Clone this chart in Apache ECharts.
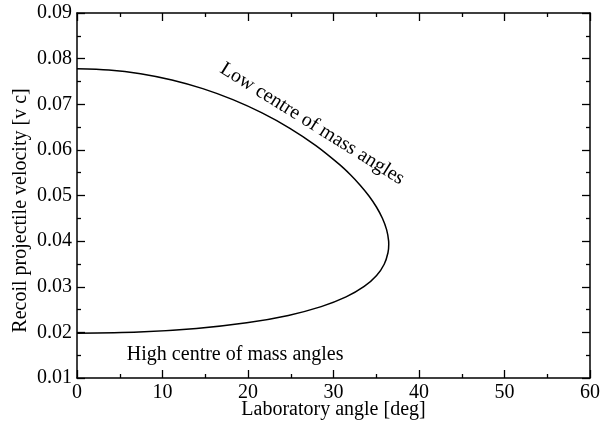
<!DOCTYPE html>
<html><head><meta charset="utf-8">
<script src="https://cdn.jsdelivr.net/npm/echarts@6/dist/echarts.min.js"></script>
<style>html,body{margin:0;padding:0;background:#fff}#c{width:610px;height:423px}</style>
</head><body><div id="c"></div>
<script>
// Laboratory angle (deg) and recoil projectile velocity (v/c)
const angles = [0, 3.72, 7.43, 11.10, 14.71, 18.23, 21.64, 24.90, 27.94, 30.72, 31.98, 33.12, 34.15, 35.02, 35.72, 36.21, 36.45, 36.46, 36.37, 35.93, 35.04, 33.59, 31.47, 28.56, 24.72, 19.85, 13.97, 7.24, 0];
const velocities = [0.0778, 0.07752, 0.07670, 0.07532, 0.07342, 0.07101, 0.06810, 0.06473, 0.06094, 0.05677, 0.05455, 0.05226, 0.04990, 0.04748, 0.04501, 0.04251, 0.03999, 0.03925, 0.03746, 0.03494, 0.03247, 0.03006, 0.02777, 0.02564, 0.02372, 0.02210, 0.02086, 0.02007, 0.0198];
const annotationTexts = ['Low centre of mass angles', 'High centre of mass angles'];
const annotationX = [27.5, 18.5];
const annotationY = [0.0657, 0.0150];
const annotationAngle = [-32, 0];
const xTitle = 'Laboratory angle [deg]';
const yTitle = 'Recoil projectile velocity [v c]';

const FONT = 'Liberation Serif';
const FS = 20;
const chart = echarts.init(document.getElementById('c'));
const axisLine = {show: true, onZero: false, lineStyle: {color: '#000', width: 1.5}};
const tick = {show: true, inside: true, length: 8, lineStyle: {color: '#000', width: 1.3}};
const minor = {show: true, splitNumber: 2, length: 4, lineStyle: {color: '#000', width: 1.3}};
const base = {splitLine: {show: false}, axisLine, axisTick: tick, minorTick: minor};
chart.setOption({
  animation: false,
  backgroundColor: '#fff',
  grid: {left: 77, right: 20, top: 13, bottom: 45, containLabel: false, outerBoundsMode: 'none'},
  xAxis: [
    Object.assign({type: 'value', min: 0, max: 60, interval: 10, position: 'bottom',
      name: xTitle, nameLocation: 'middle', nameGap: 22, nameMoveOverlap: false,
      nameTextStyle: {fontFamily: FONT, fontSize: FS, color: '#000'},
      axisLabel: {fontFamily: FONT, fontSize: FS, color: '#000', margin: 5}}, base),
    Object.assign({type: 'value', min: 0, max: 60, interval: 10, position: 'top',
      axisLabel: {show: false}}, base)
  ],
  yAxis: [
    Object.assign({type: 'value', min: 0.01, max: 0.09, interval: 0.01, position: 'left',
      name: yTitle, nameLocation: 'middle', nameGap: 46, nameMoveOverlap: false,
      nameTextStyle: {fontFamily: FONT, fontSize: FS, color: '#000', padding: [0, 30, 0, 0]},
      axisLabel: {fontFamily: FONT, fontSize: FS, color: '#000', margin: 5,
        formatter: v => v.toFixed(2)}}, base),
    Object.assign({type: 'value', min: 0.01, max: 0.09, interval: 0.01, position: 'right',
      axisLabel: {show: false}}, base)
  ],
  series: [{
    type: 'line',
    data: angles.map((a, i) => [a, velocities[i]]),
    showSymbol: false,
    smooth: 0.3,
    lineStyle: {color: '#000', width: 1.5},
    clip: true
  }]
});
chart.setOption({
  graphic: annotationTexts.map((t, i) => {
    const p = chart.convertToPixel({xAxisIndex: 0, yAxisIndex: 0}, [annotationX[i], annotationY[i]]);
    return {type: 'text', x: p[0], y: p[1], rotation: annotationAngle[i] * Math.PI / 180,
      style: {text: t, fontFamily: FONT, fontSize: FS, fill: '#000', align: 'center', verticalAlign: 'middle'}};
  })
});
</script></body></html>
